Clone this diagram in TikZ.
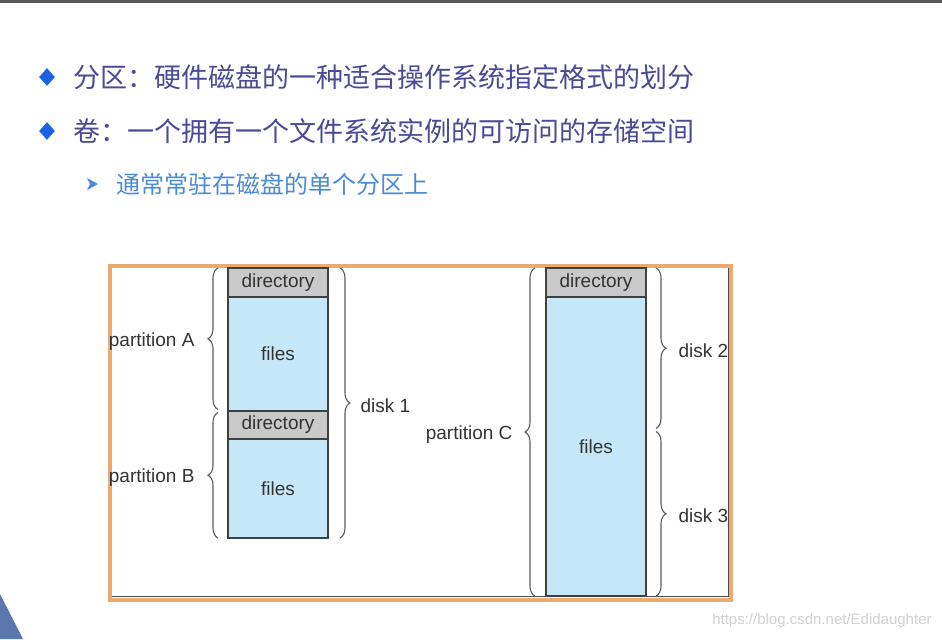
\documentclass[tikz,border=0pt]{standalone}
\usepackage{fontspec}
\setmainfont{Liberation Sans}
\newfontfamily\cjk{Noto Sans CJK SC}
\usetikzlibrary{positioning,calc,shapes.geometric,decorations.pathreplacing}

\definecolor{dirgray}{HTML}{C9C9C9}
\definecolor{fileblue}{HTML}{C6E7F8}
\definecolor{frameorange}{HTML}{ECAA70}
\definecolor{textpurple}{HTML}{4A4A96}
\definecolor{subblue}{HTML}{4A8AD8}
\definecolor{bulletblue}{HTML}{1A62E6}
\definecolor{bracegray}{HTML}{5A5A5A}
\definecolor{decoblue}{HTML}{5B77AD}

\begin{document}
\begin{tikzpicture}[x=0.5pt,y=-0.5pt,
  dirbox/.style={draw=black!75, line width=0.6pt, fill=dirgray, outer sep=0pt, inner sep=0pt,
    minimum width=50pt, minimum height=14.5pt, font=\fontsize{9.5}{11}\selectfont, text=black!80},
  filebox/.style={dirbox, fill=fileblue},
  brace/.style={draw=bracegray, line width=0.55pt, decorate, decoration={brace, amplitude=5pt}},
  lbl/.style={inner sep=0pt, yshift=-1.2pt, font=\fontsize{9.5}{11}\selectfont, text=black!80},
  bullet/.style={diamond, fill=bulletblue, inner sep=0pt, minimum width=8pt, minimum height=9pt},
  item/.style={inner sep=0pt, anchor=west, font=\cjk\fontsize{13.5}{16}\selectfont, text=textpurple},
  subitem/.style={item, font=\cjk\fontsize{12}{14}\selectfont, text=subblue}]
\useasboundingbox (0,0) rectangle (942,639);
\fill[white] (0,0) rectangle (942,639);
\fill[black!65] (0,0) rectangle (942,2.5);
\fill[decoblue] (0,594) -- (23,639) -- (0,639) -- cycle;

% bullet points
\node[bullet] (b1) at (47,77) {};
\node[item, right=9pt of b1] (t1) {分区：硬件磁盘的一种适合操作系统指定格式的划分};
\node[bullet] (b2) at (47,131) {};
\node[item, right=9pt of b2] (t2) {卷：一个拥有一个文件系统实例的可访问的存储空间};
\coordinate (b3) at (92,184);
\fill[subblue, shift={(b3)}] (-5,-6) -- (6,0) -- (-5,6) -- (-2,0) -- cycle;
\node[subitem, right=12pt of b3] (t3) {通常常驻在磁盘的单个分区上};

% frame
\draw[frameorange, line width=2pt] (110,266) rectangle (731,599.5);
\draw[black!70, line width=0.8pt] (112,596.5) -- (728.5,596.5) -- (728.5,268);

% disk 1: partitions A and B
\node[dirbox] (dirA) at (278,282.5) {directory};
\node[filebox, minimum height=57pt, below=0pt of dirA] (filesA) {files};
\node[dirbox, minimum height=14pt, below=0pt of filesA] (dirB) {directory};
\node[filebox, minimum height=49.5pt, below=0pt of dirB] (filesB) {files};

\draw[brace] ($(filesA.south west)+(-10,-1.5)$) -- node[lbl, left=11.5pt] (lblA) {partition A} ($(dirA.north west)+(-10,0)$);
\draw[brace] ($(filesB.south west)+(-10,0)$) -- node[lbl, left=11.5pt] (lblB) {partition B} ($(dirB.north west)+(-10,1.5)$);
\draw[brace] ($(dirA.north east)+(12,0)$) -- node[lbl, right=10pt] (lblD1) {disk 1} ($(filesB.south east)+(12,0)$);

% partition C over disks 2 and 3
\node[dirbox] (dirC) at (596,282.5) {directory};
\node[filebox, minimum height=149.5pt, below=0pt of dirC] (filesC) {files};
\coordinate (split) at ($(filesC.south east)+(10,-166)$);

\draw[brace] ($(filesC.south west)+(-11,0)$) -- node[lbl, left=11pt] (lblC) {partition C} ($(dirC.north west)+(-11,0)$);
\draw[brace] ($(dirC.north east)+(10,0)$) -- node[lbl, right=11pt] (lblD2) {disk 2} ($(split)+(0,-1.5)$);
\draw[brace] ($(split)+(0,1.5)$) -- node[lbl, right=11pt] (lblD3) {disk 3} ($(filesC.south east)+(10,0)$);

\node[anchor=east, inner sep=0pt, font=\fontsize{7.5}{9}\selectfont, text=black!18] (wm) at (932,621) {https://blog.csdn.net/Edidaughter};
\end{tikzpicture}
\end{document}
